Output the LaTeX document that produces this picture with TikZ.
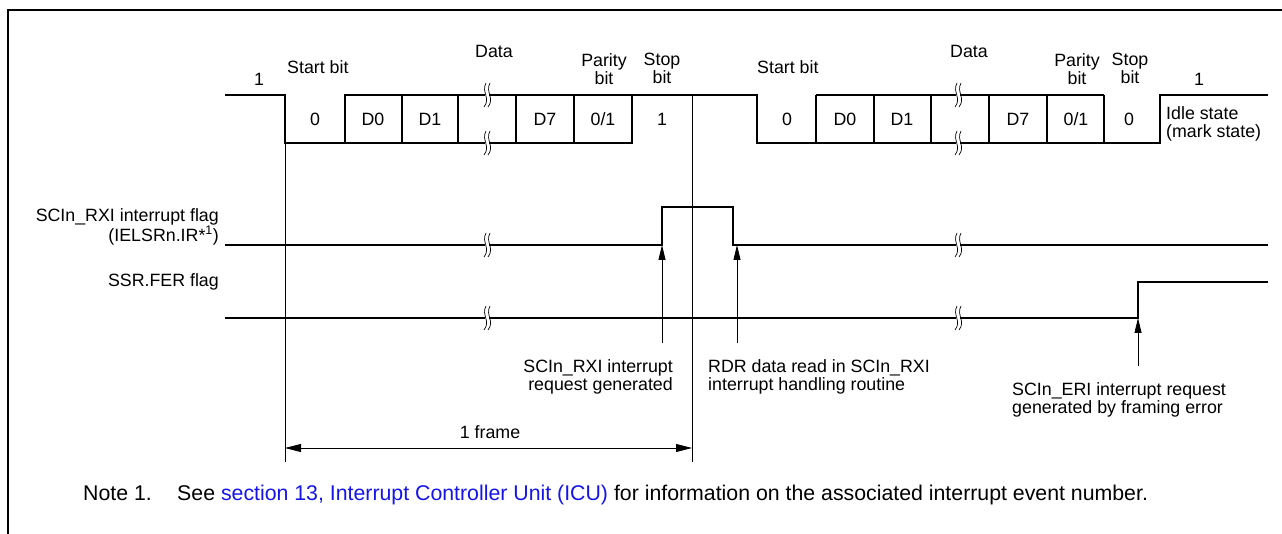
\documentclass[tikz,border=0pt]{standalone}
\usepackage{fontspec}
\setmainfont{Liberation Sans}
\usetikzlibrary{arrows.meta}
\definecolor{linkblue}{RGB}{20,20,235}
\begin{document}
\begin{tikzpicture}[x=1pt,y=-1pt,
  sig/.style={line width=1.5pt},
  thinl/.style={line width=0.8pt},
  lbl/.style={font=\fontsize{17.8}{18}\selectfont, inner sep=0pt},
  notelbl/.style={font=\fontsize{21.3}{24}\selectfont, inner sep=0pt},
  uparr/.style={thinl,-{Triangle[length=15pt,width=7pt]}},
  dimarr/.style={thinl,{Triangle[length=16pt,width=8pt]}-{Triangle[length=16pt,width=8pt]}},
  brk/.pic={
    \fill[white] (-2.2,-2) rectangle (2.2,2);
    \draw[line width=0.7pt] (-1,-12) .. controls (-6,-3) and (4,3) .. (-3,12);
    \draw[line width=0.7pt] (3,-12) .. controls (-2,-3) and (8,3) .. (1,12);
  }]
\useasboundingbox (0,0) rectangle (1282,534);
% outer frame
\coordinate (ftr) at (1284,10);
\coordinate (ftl) at (8,10);
\coordinate (fbl) at (8,536);
\draw[line width=2.6pt] (ftr) -- (ftl) -- (fbl);

% ---------- waveform coordinates ----------
\foreach \n/\x in {p0/225,a/285,b/345,c/402,d/458,e/516,f/574,g/632,h/692,
                   A/757,B/816,C/874,D/931,E/989,F/1047,G/1104,H/1160,Z/1268}{
  \coordinate (\n H) at (\x,95);
  \coordinate (\n L) at (\x,143);
}
% waveform
\draw[sig] (p0H) -- (aH) -- (aL) -- (gL) -- (gH);
\draw[sig] (bL) -- (bH) -- (AH) -- (AL) -- (HL) -- (HH) -- (ZH);
\draw[sig] (BH) -- (GH);
\foreach \n in {c,d,e,f,B,C,D,E,F,G}{\draw[sig] (\n H) -- (\n L);}
% break marks on data
\path (487,95) pic{brk} (487,143) pic{brk} (958,95) pic{brk} (958,143) pic{brk};

% frame marker lines
\coordinate (fa) at (285,462);
\coordinate (fh) at (692,462);
\coordinate (dA) at (285,448);
\coordinate (dH) at (692,448);
\draw[thinl] (aL) -- (fa);
\draw[thinl] (hH) -- (fh);
\draw[dimarr] (dA) -- (dH);
\node[lbl,anchor=base] (fr) at (490,438) {1 frame};

% labels top
\node[lbl,anchor=base] (one1) at (259,86) {1};
\node[lbl,anchor=base west] (sb1) at (287,74) {Start bit};
\node[lbl,anchor=base] (dt1) at (494,58) {Data};
\node[lbl,anchor=north,align=center] (pb1) at (604,53) {Parity\\bit};
\node[lbl,anchor=north,align=center] (st1) at (662,53) {Stop\\bit};
\node[lbl,anchor=base west] (sb2) at (757,74) {Start bit};
\node[lbl,anchor=base] (dt2) at (969,58) {Data};
\node[lbl,anchor=north,align=center] (pb2) at (1077,53) {Parity\\bit};
\node[lbl,anchor=north,align=center] (st2) at (1130,53) {Stop\\bit};
\node[lbl,anchor=base] (one2) at (1199,86) {1};

% cell labels
\foreach \n/\x/\t in {c1/315/0,c2/373/D0,c3/430/D1,c4/545/D7,c5/603/0\slash 1,c6/662/1,
                      c7/787/0,c8/845/D0,c9/902/D1,c10/1018/D7,c11/1076/0\slash 1,c12/1129/0}{
  \node[lbl,anchor=base] (\n) at (\x,126) {\t};
}
\node[lbl,anchor=north west,align=left] (idle) at (1166,106) {Idle state\\(mark state)};

% flags
\node[lbl,anchor=north east,align=right] (rxil) at (219,208.5) {SCIn\_RXI interrupt flag\\(IELSRn.IR*\textsuperscript{1})};
\node[lbl,anchor=base east] (ferl) at (219,287) {SSR.FER flag};

\coordinate (r0) at (225,245);
\coordinate (r1) at (662,245);
\coordinate (r2) at (662,207);
\coordinate (r3) at (733,207);
\coordinate (r4) at (733,245);
\coordinate (r5) at (1268,245);
\draw[sig] (r0) -- (r1) -- (r2) -- (r3) -- (r4) -- (r5);
\coordinate (e0) at (225,318);
\coordinate (e1) at (1138,318);
\coordinate (e2) at (1138,282);
\coordinate (e3) at (1268,282);
\draw[sig] (e0) -- (e1) -- (e2) -- (e3);
\path (487,245) pic{brk} (958,245) pic{brk} (487,318) pic{brk} (958,318) pic{brk};

% arrows
\coordinate (a1s) at (662,343);
\coordinate (a2s) at (737,343);
\coordinate (a2e) at (737,245);
\coordinate (a3s) at (1138,366);
\draw[uparr] (a1s) -- (r1);
\draw[uparr] (a2s) -- (a2e);
\draw[uparr] (a3s) -- (e1);

\node[lbl,anchor=north east,align=right] (rq) at (673,359) {SCIn\_RXI interrupt\\request generated};
\node[lbl,anchor=north west,align=left] (rdr) at (708,359) {RDR data read in SCIn\_RXI\\interrupt handling routine};
\node[lbl,anchor=north west,align=left] (eri) at (1012,382) {SCIn\_ERI interrupt request\\generated by framing error};

% note
\node[notelbl,anchor=base west] (nt) at (83,500.5) {Note 1.};
\node[notelbl,anchor=base west] (nt2) at (177,500.5) {See \textcolor{linkblue}{section 13, Interrupt Controller Unit (ICU)} for information on the associated interrupt event number.};
\end{tikzpicture}
\end{document}
